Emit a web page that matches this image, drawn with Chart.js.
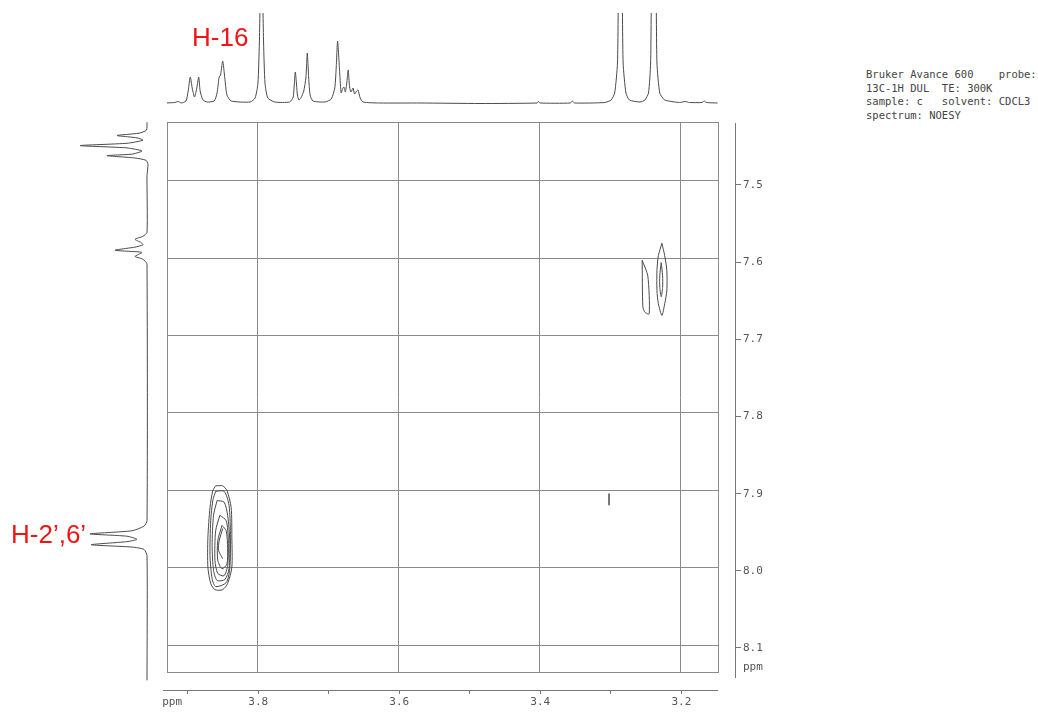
<!DOCTYPE html>
<html>
<head>
<meta charset="utf-8">
<title>NOESY</title>
<script src="https://cdn.jsdelivr.net/npm/chart.js@4.4.0/dist/chart.umd.min.js"></script>
<style>
  html, body { margin: 0; padding: 0; background: #fff; }
  #page { position: relative; width: 1038px; height: 713px; overflow: hidden; background: #fff; }
  #page canvas { position: absolute; display: block; }
  .peak-label { position: absolute; color: #f01414; font-family: "Liberation Sans", Arial, sans-serif; font-size: 26px; line-height: 1; white-space: nowrap; }
  #info { position: absolute; left: 866px; top: 68px; font-family: "DejaVu Sans Mono", monospace; font-size: 10.5px; line-height: 13.6px; color: #444; white-space: pre; }
</style>
</head>
<body>
<div id="page">
  <canvas id="topSpec" width="552" height="93" style="left:167px;top:13px"></canvas>
  <canvas id="leftSpec" width="80" height="564" style="left:70px;top:118px"></canvas>
  <canvas id="main" width="552" height="551" style="left:167px;top:122px"></canvas>
  <canvas id="rightAxis" width="80" height="555" style="left:695px;top:123px"></canvas>
  <canvas id="bottomAxis" width="555" height="33" style="left:163px;top:680px"></canvas>
  <div class="peak-label" style="left:192px;top:24px">H-16</div>
  <div class="peak-label" style="left:11px;top:521px">H-2’,6’</div>
  <div id="info">Bruker Avance 600    probe:
13C-1H DUL  TE: 300K
sample: c   solvent: CDCL3
spectrum: NOESY</div>
</div>
<script>
// axis ticks (ppm)
const xMajor = [3.8, 3.6, 3.4, 3.2];
const xMinor = [3.9, 3.7, 3.5, 3.3];
const yMajor = [7.5, 7.6, 7.7, 7.8, 7.9, 8.0, 8.1];
const unitLabel = 'ppm';

// F2 projection (top), relative intensity
const topPpm = [
  3.932, 3.918, 3.913, 3.909, 3.902, 3.899, 3.896, 3.893, 3.890, 3.887, 3.884, 3.882, 3.878, 3.872,
  3.862, 3.858, 3.855, 3.853, 3.850, 3.847, 3.844, 3.838,
  3.811, 3.804, 3.800, 3.798, 3.796, 3.794, 3.792, 3.790, 3.786, 3.776,
  3.755, 3.750, 3.747, 3.744, 3.742, 3.739, 3.735, 3.732, 3.730, 3.728, 3.726, 3.722,
  3.705, 3.696, 3.691, 3.689, 3.687, 3.684, 3.682, 3.680, 3.678, 3.676, 3.674, 3.672, 3.670, 3.668, 3.665, 3.663, 3.660, 3.658, 3.655, 3.651,
  3.627, 3.570, 3.485, 3.404, 3.402, 3.400, 3.357, 3.354, 3.351, 3.308,
  3.299, 3.294, 3.290, 3.288, 3.284, 3.282, 3.278, 3.273, 3.258,
  3.251, 3.246, 3.243, 3.241, 3.236, 3.234, 3.230, 3.223,
  3.202, 3.194, 3.188, 3.170, 3.167, 3.164, 3.148
];
const topIntensity = [
  0, 0.5, 1.5, 0, 2, 12, 26, 14, 6, 14, 26, 12, 3, 1,
  2, 10, 26, 28, 42, 25, 8, 2,
  1, 5, 20, 60, 130, 130, 60, 20, 5, 1,
  1, 6, 31, 8, 3, 5, 12, 25, 50, 25, 8, 2,
  1, 4, 15, 35, 62, 30, 10, 14, 16, 11, 20, 33, 16, 11, 15, 9, 12, 13, 5, 1,
  0, 0, -0.5, 0, 1.5, 0, 0, 2, 0, 0.5,
  3, 10, 40, 130, 130, 40, 10, 3, 1,
  3, 10, 40, 130, 130, 40, 10, 3,
  0.5, 1.5, 0.5, 0.5, 2, 0.5, 0
];

// F1 projection (left), relative intensity
const leftPpm = [
  7.425, 7.435, 7.439, 7.442, 7.445, 7.448, 7.452, 7.455, 7.458, 7.462, 7.466, 7.468, 7.471, 7.474, 7.479, 7.494,
  7.567, 7.572, 7.576, 7.580, 7.583, 7.586, 7.590, 7.592, 7.593, 7.598, 7.601, 7.604, 7.608,
  7.939, 7.946, 7.952, 7.956, 7.959, 7.963, 7.966, 7.970, 7.973, 7.976, 7.984, 8.145
];
const leftIntensity = [
  0, 0.5, 8, 30, 10, 4, 20, 67, 20, 5, 15, 40, 12, 1, -1, 0,
  0, 4, 12, 6, 4, 12, 32, 10, 5, 12, 5, 2, 0,
  0, 3, 15, 57, 20, 10, 20, 56, 15, 3, 0, 0
];

// contour levels, [F2 ppm, F1 ppm]
const crossH16a = [[3.860,7.894],[3.850,7.894],[3.844,7.900],[3.838,7.922],[3.837,7.961],[3.837,7.999],[3.843,8.020],[3.850,8.028],[3.861,8.028],[3.867,8.020],[3.871,7.999],[3.871,7.961],[3.868,7.922],[3.864,7.900],[3.860,7.894]];
const crossH16b = [[3.860,7.901],[3.848,7.901],[3.841,7.919],[3.839,7.961],[3.840,8.001],[3.845,8.019],[3.860,8.024],[3.865,8.014],[3.868,7.984],[3.867,7.939],[3.864,7.913],[3.860,7.901]];
const crossH16c = [[3.858,7.913],[3.848,7.915],[3.843,7.932],[3.840,7.965],[3.841,8.001],[3.847,8.015],[3.858,8.016],[3.863,8.003],[3.865,7.971],[3.863,7.932],[3.858,7.913]];
const crossH16d = [[3.854,7.932],[3.845,7.939],[3.842,7.965],[3.843,7.997],[3.848,8.010],[3.857,8.007],[3.861,7.990],[3.860,7.952],[3.854,7.932]];
const crossH16e = [[3.851,7.945],[3.845,7.952],[3.843,7.975],[3.844,7.995],[3.851,8.001],[3.857,7.990],[3.857,7.965],[3.851,7.945]];
const crossH16f = [[3.850,7.949],[3.855,7.965],[3.856,7.977],[3.850,7.988]];
const crossR1 = [[3.227,7.581],[3.223,7.597],[3.220,7.616],[3.220,7.642],[3.223,7.659],[3.227,7.674],[3.232,7.659],[3.234,7.642],[3.234,7.616],[3.232,7.597],[3.227,7.581]];
const crossR2 = [[3.228,7.606],[3.226,7.623],[3.226,7.638],[3.228,7.650],[3.230,7.638],[3.230,7.623],[3.228,7.606]];
const crossR3 = [[3.255,7.603],[3.247,7.623],[3.245,7.672],[3.251,7.670],[3.254,7.663],[3.255,7.603]];
const artefact = [[3.302,7.904],[3.302,7.919]];

const contours = [crossH16a, crossH16b, crossH16c, crossH16d, crossH16e, crossH16f, crossR1, crossR2, crossR3, artefact];

// plot ranges
const xRange = { min: 3.146, max: 3.929 };
const yRange = { min: 7.4245, max: 8.1355 };

const GRID = '#8a8a8a';
const INK = '#4a4a4a';
const AXIS = '#777';
const tickFont = { family: '"DejaVu Sans Mono", monospace', size: 11 };

const base = {
  responsive: false,
  animation: false,
  events: [],
  layout: { padding: 0, autoPadding: false },
  plugins: { legend: { display: false }, tooltip: { enabled: false } },
};

const pairs = (arr) => arr.map((p) => ({ x: p[0], y: p[1] }));

const frame = {
  id: 'frame',
  afterDraw(chart) {
    const { ctx, chartArea: a } = chart;
    ctx.save();
    ctx.strokeStyle = GRID;
    ctx.lineWidth = 1;
    ctx.strokeRect(a.left + 0.5, a.top + 0.5, a.right - a.left - 1, a.bottom - a.top - 1);
    ctx.restore();
  },
};

// top 1D trace
new Chart(document.getElementById('topSpec'), {
  type: 'line',
  data: {
    datasets: [{
      data: topPpm.map((p, i) => ({ x: p, y: topIntensity[i] })),
      borderColor: INK, borderWidth: 1, pointRadius: 0, tension: 0.2,
    }],
  },
  options: {
    ...base,
    scales: {
      x: { type: 'linear', display: false, reverse: true, min: xRange.min, max: xRange.max },
      y: { type: 'linear', display: false, min: -3, max: 90 },
    },
  },
});

// left 1D trace
new Chart(document.getElementById('leftSpec'), {
  type: 'line',
  data: {
    datasets: [{
      data: leftPpm.map((p, i) => ({ x: leftIntensity[i], y: p })),
      borderColor: INK, borderWidth: 1, pointRadius: 0, tension: 0.2,
    }],
  },
  options: {
    ...base,
    indexAxis: 'y',
    scales: {
      x: { type: 'linear', display: false, reverse: true, min: -3, max: 77 },
      y: { type: 'linear', display: false, reverse: true, min: 7.4194, max: 8.1471 },
    },
  },
});

// 2D contour map
new Chart(document.getElementById('main'), {
  type: 'scatter',
  data: {
    datasets: contours.map((c) => ({
      data: pairs(c),
      showLine: true,
      borderColor: INK,
      borderWidth: c === artefact ? 1.5 : 1,
      pointRadius: 0,
      tension: 0.25,
    })),
  },
  options: {
    ...base,
    scales: {
      x: {
        type: 'linear', reverse: true, min: xRange.min, max: xRange.max,
        ticks: { display: false },
        grid: { color: GRID, drawTicks: false },
        border: { display: false },
        afterBuildTicks: (s) => { s.ticks = xMajor.map((v) => ({ value: v })); },
      },
      y: {
        type: 'linear', reverse: true, min: yRange.min, max: yRange.max,
        ticks: { display: false },
        grid: { color: GRID, drawTicks: false },
        border: { display: false },
        afterBuildTicks: (s) => { s.ticks = yMajor.map((v) => ({ value: v })); },
      },
    },
  },
  plugins: [frame],
});

// F1 axis on the right
const yUnitAt = 8.125;
new Chart(document.getElementById('rightAxis'), {
  type: 'scatter',
  data: { datasets: [] },
  options: {
    ...base,
    scales: {
      x: { display: false, min: 0, max: 1 },
      y: {
        type: 'linear', position: 'right', reverse: true, min: 7.4197, max: 8.1389,
        afterBuildTicks: (s) => { s.ticks = yMajor.concat([yUnitAt]).map((v) => ({ value: v })); },
        afterFit: (s) => { s.width = 40; s.paddingTop = 0; s.paddingBottom = 0; },
        grid: {
          drawOnChartArea: false, tickLength: 6,
          tickColor: (ctx) => (ctx.tick && ctx.tick.value === yUnitAt ? 'rgba(0,0,0,0)' : AXIS),
        },
        border: { color: AXIS },
        ticks: {
          autoSkip: false, padding: 2, color: '#555', font: tickFont,
          callback: (v) => (v === yUnitAt ? unitLabel : Number(v).toFixed(1)),
        },
      },
    },
  },
});

// F2 axis at the bottom
const xUnitAt = 3.922;
new Chart(document.getElementById('bottomAxis'), {
  type: 'scatter',
  data: { datasets: [] },
  options: {
    ...base,
    scales: {
      y: { display: false, min: 0, max: 1 },
      x: {
        type: 'linear', position: 'bottom', reverse: true, min: 3.148, max: 3.935,
        afterBuildTicks: (s) => {
          s.ticks = xMajor.concat(xMinor, [xUnitAt]).sort((a, b) => a - b).map((v) => ({ value: v }));
        },
        afterFit: (s) => { s.height = 23; s.paddingLeft = 0; s.paddingRight = 0; },
        grid: {
          drawOnChartArea: false, tickLength: 4,
          tickColor: (ctx) => (ctx.tick && ctx.tick.value === xUnitAt ? 'rgba(0,0,0,0)' : AXIS),
        },
        border: { color: AXIS },
        ticks: {
          autoSkip: false, maxRotation: 0, padding: 2, color: '#555', font: tickFont,
          callback: (v) => (v === xUnitAt ? unitLabel : xMajor.includes(v) ? Number(v).toFixed(1) : ''),
        },
      },
    },
  },
});
</script>
</body>
</html>
